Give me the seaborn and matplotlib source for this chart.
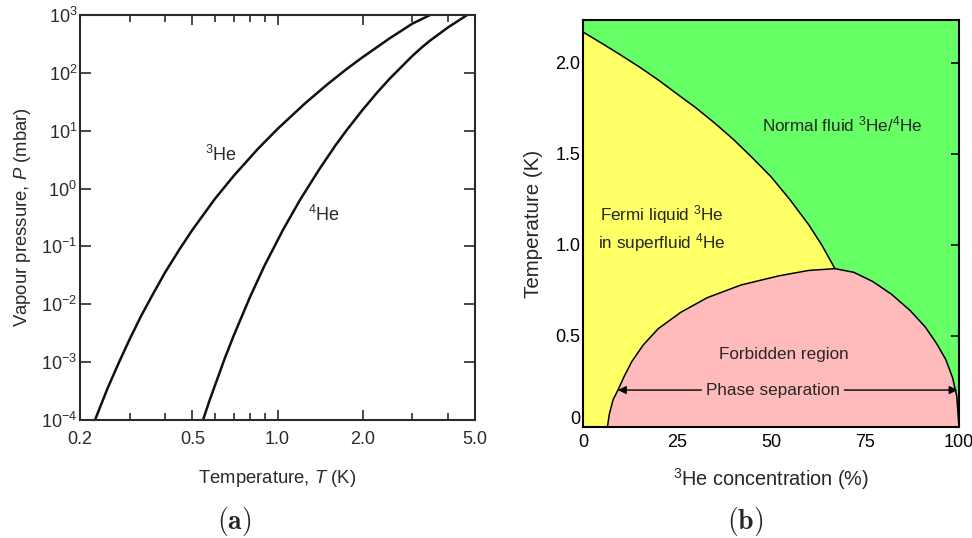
import matplotlib
matplotlib.use("Agg")
import numpy as np
import pandas as pd
import seaborn as sns
import matplotlib.pyplot as plt
import matplotlib.transforms as mtransforms
from matplotlib.ticker import FixedLocator, NullLocator, NullFormatter

# ---------------- data ----------------
# (a) vapour pressure curves, T in K, log10(P / mbar)
he3_T = [0.226, 0.25, 0.275, 0.30, 0.33, 0.36, 0.40, 0.45, 0.50, 0.60, 0.70, 0.85,
         1.0, 1.25, 1.5, 1.75, 2.0, 2.5, 3.0, 3.47]
he3_logP = [-4.0, -3.46, -3.00, -2.60, -2.19, -1.85, -1.45, -1.05, -0.713, -0.18, 0.22, 0.68,
            1.03, 1.47, 1.80, 2.06, 2.27, 2.60, 2.85, 3.0]
he4_T = [0.545, 0.575, 0.60, 0.65, 0.70, 0.80, 0.90, 1.046, 1.2, 1.4, 1.6, 1.76,
         2.0, 2.25, 2.5, 3.0, 3.25, 3.47, 4.0, 4.69]
he4_logP = [-4.0, -3.66, -3.41, -2.94, -2.54, -1.87, -1.33, -0.713, -0.20, 0.32, 0.74, 1.014,
            1.36, 1.657, 1.904, 2.292, 2.445, 2.559, 2.781, 3.0]
a_xticks = [0.2, 0.5, 1.0, 2.0, 5.0]
a_xticklabels = ["0.2", "0.5", "1.0", "2.0", "5.0"]
a_xminor = [0.3, 0.4, 0.6, 0.7, 0.8, 0.9, 3.0, 4.0]
a_yexp = [-4, -3, -2, -1, 0, 1, 2, 3]

# (b) phase diagram, x = 3He concentration (%), T in K
lam_x = [0, 5, 10, 15, 20, 25, 30, 35, 40, 45, 50, 55, 60, 63.5, 67]
lam_T = [2.17, 2.108, 2.044, 1.978, 1.907, 1.83, 1.754, 1.67, 1.58, 1.48, 1.375, 1.25,
         1.112, 1.0, 0.87]
dome_x = [6.5, 7, 8, 9.3, 11, 13, 16, 20, 26, 33, 42, 52, 60, 67, 72, 77, 82, 87,
          91, 94, 96.5, 98.3, 99.4, 100]
dome_T = [0, 0.07, 0.15, 0.203, 0.28, 0.36, 0.45, 0.54, 0.63, 0.71, 0.78, 0.83, 0.86, 0.87,
          0.85, 0.80, 0.73, 0.64, 0.55, 0.46, 0.37, 0.27, 0.17, 0]
b_xticks = [0, 25, 50, 75, 100]
b_yticks = [0, 0.5, 1.0, 1.5, 2.0]
b_yticklabels = ["0", "0.5", "1.0", "1.5", "2.0"]

GREEN = "#66ff66"
YELLOW = "#ffff66"
PINK = "#ffbbbb"

# ---------------- style ----------------
sns.set_theme(style="ticks")
plt.rcParams["font.family"] = ["Liberation Sans", "DejaVu Sans"]
plt.rcParams["mathtext.fontset"] = "custom"
plt.rcParams["mathtext.rm"] = "Liberation Sans"
plt.rcParams["mathtext.it"] = "Liberation Sans:italic"
plt.rcParams["mathtext.bf"] = "Liberation Sans:bold"
plt.rcParams["axes.unicode_minus"] = True

fig = plt.figure(figsize=(9.72, 5.38), dpi=100)
W, H = 972, 538
axL = fig.add_axes([80 / W, (H - 420) / H, 395 / W, 405 / H])
axR = fig.add_axes([583 / W, (H - 427) / H, 376 / W, 407 / H])

# ---------------- panel (a) ----------------
gray = "#2a2a2a"
df3 = pd.DataFrame({"T": he3_T, "P": np.power(10.0, he3_logP)})
df4 = pd.DataFrame({"T": he4_T, "P": np.power(10.0, he4_logP)})
sns.lineplot(data=df3, x="T", y="P", ax=axL, color="#111111", lw=1.8, estimator=None, sort=True)
sns.lineplot(data=df4, x="T", y="P", ax=axL, color="#111111", lw=1.8, estimator=None, sort=True)
axL.set_xscale("log")
axL.set_yscale("log")
axL.set_xlim(0.2, 5.0)
axL.set_ylim(1e-4, 1e3)
axL.xaxis.set_major_locator(FixedLocator(a_xticks))
axL.set_xticklabels(a_xticklabels)
axL.xaxis.set_minor_locator(FixedLocator(a_xminor))
axL.xaxis.set_minor_formatter(NullFormatter())
yt = [10.0 ** e for e in a_yexp]
axL.yaxis.set_major_locator(FixedLocator(yt))
axL.set_yticklabels([r"$10^{%d}$" % e for e in a_yexp])
axL.yaxis.set_minor_locator(NullLocator())
axL.tick_params(axis="both", which="both", direction="in", top=True, right=True,
                colors=gray, labelcolor=gray, width=1.2)
axL.tick_params(axis="x", which="major", length=7, pad=8, labelsize=13)
axL.tick_params(axis="x", which="minor", length=5)
axL.tick_params(axis="y", which="major", length=8, pad=2, labelsize=13)
for s in axL.spines.values():
    s.set_linewidth(1.5)
    s.set_color(gray)
    s.set_visible(True)
axL.set_xlabel(r"Temperature, $T$ (K)", fontsize=13.3, color=gray, labelpad=14)
axL.set_ylabel(r"Vapour pressure, $P$ (mbar)", fontsize=13.3, color=gray, labelpad=6)
axL.text(0.554, 3.8, r"$^{3}$He", fontsize=13, color=gray, ha="left", va="center")
axL.text(1.28, 0.35, r"$^{4}$He", fontsize=13, color=gray, ha="left", va="center")
axL.set_facecolor("white")

# ---------------- panel (b) ----------------
axR.set_facecolor(GREEN)
axR.fill_between(lam_x, 0, lam_T, color=YELLOW, lw=0, zorder=1)
axR.fill_between(dome_x, 0, dome_T, color=PINK, lw=0, zorder=2)
sns.lineplot(x=lam_x, y=lam_T, ax=axR, color="black", lw=1.1, estimator=None, sort=False, zorder=3)
sns.lineplot(x=dome_x, y=dome_T, ax=axR, color="black", lw=1.1, estimator=None, sort=False, zorder=3)
axR.set_xlim(0, 100)
axR.set_ylim(0, 2.236)
axR.set_xticks(b_xticks)
axR.set_xticklabels([str(v) for v in b_xticks])
axR.set_yticks(b_yticks)
axR.set_yticklabels(b_yticklabels)
axR.tick_params(axis="both", which="both", direction="in", top=False, right=True,
                length=6, width=1.2, labelsize=13, colors="black")
axR.tick_params(axis="x", pad=5)
axR.tick_params(axis="y", pad=2)
for s in axR.spines.values():
    s.set_linewidth(1.5)
    s.set_color("black")
    s.set_visible(True)
    s.set_zorder(5)
# shift the "0" y label up a little, as in the reference
lbl0 = axR.get_yticklabels()[0]
lbl0.set_transform(lbl0.get_transform() + mtransforms.ScaledTranslation(0, 9 / 100, fig.dpi_scale_trans))
axR.set_xlabel(r"$^{3}$He concentration (%)", fontsize=14.3, labelpad=11)
axR.set_ylabel("Temperature (K)", fontsize=14.8, labelpad=9)

fs_in = 12.3
axR.text(69, 1.66, r"Normal fluid $^{3}$He/$^{4}$He", fontsize=fs_in, ha="center", va="center", zorder=6)
axR.text(21, 1.09, "Fermi liquid $^{3}$He\nin superfluid $^{4}$He", fontsize=fs_in, ha="center",
         va="center", linespacing=1.3, zorder=6)
axR.text(53.5, 0.40, "Forbidden region", fontsize=fs_in, ha="center", va="center", zorder=6)
axR.text(50.5, 0.203, "Phase separation", fontsize=fs_in, ha="center", va="center", zorder=6)
arrow_kw = dict(arrowstyle="-|>", color="black", lw=1.0, mutation_scale=12, shrinkA=0, shrinkB=0)
axR.annotate("", xy=(9.3, 0.203), xytext=(31.5, 0.203), arrowprops=arrow_kw, zorder=6)
axR.annotate("", xy=(99.6, 0.203), xytext=(69.5, 0.203), arrowprops=arrow_kw, zorder=6)

# ---------------- captions ----------------
fig.text(234 / W, 1 - 521 / H, r"$\mathbf{(a)}$", math_fontfamily="cm", fontsize=20, ha="center", va="center")
fig.text(745 / W, 1 - 521 / H, r"$\mathbf{(b)}$", math_fontfamily="cm", fontsize=20, ha="center", va="center")

fig.savefig("out.png", dpi=100, facecolor="white")
